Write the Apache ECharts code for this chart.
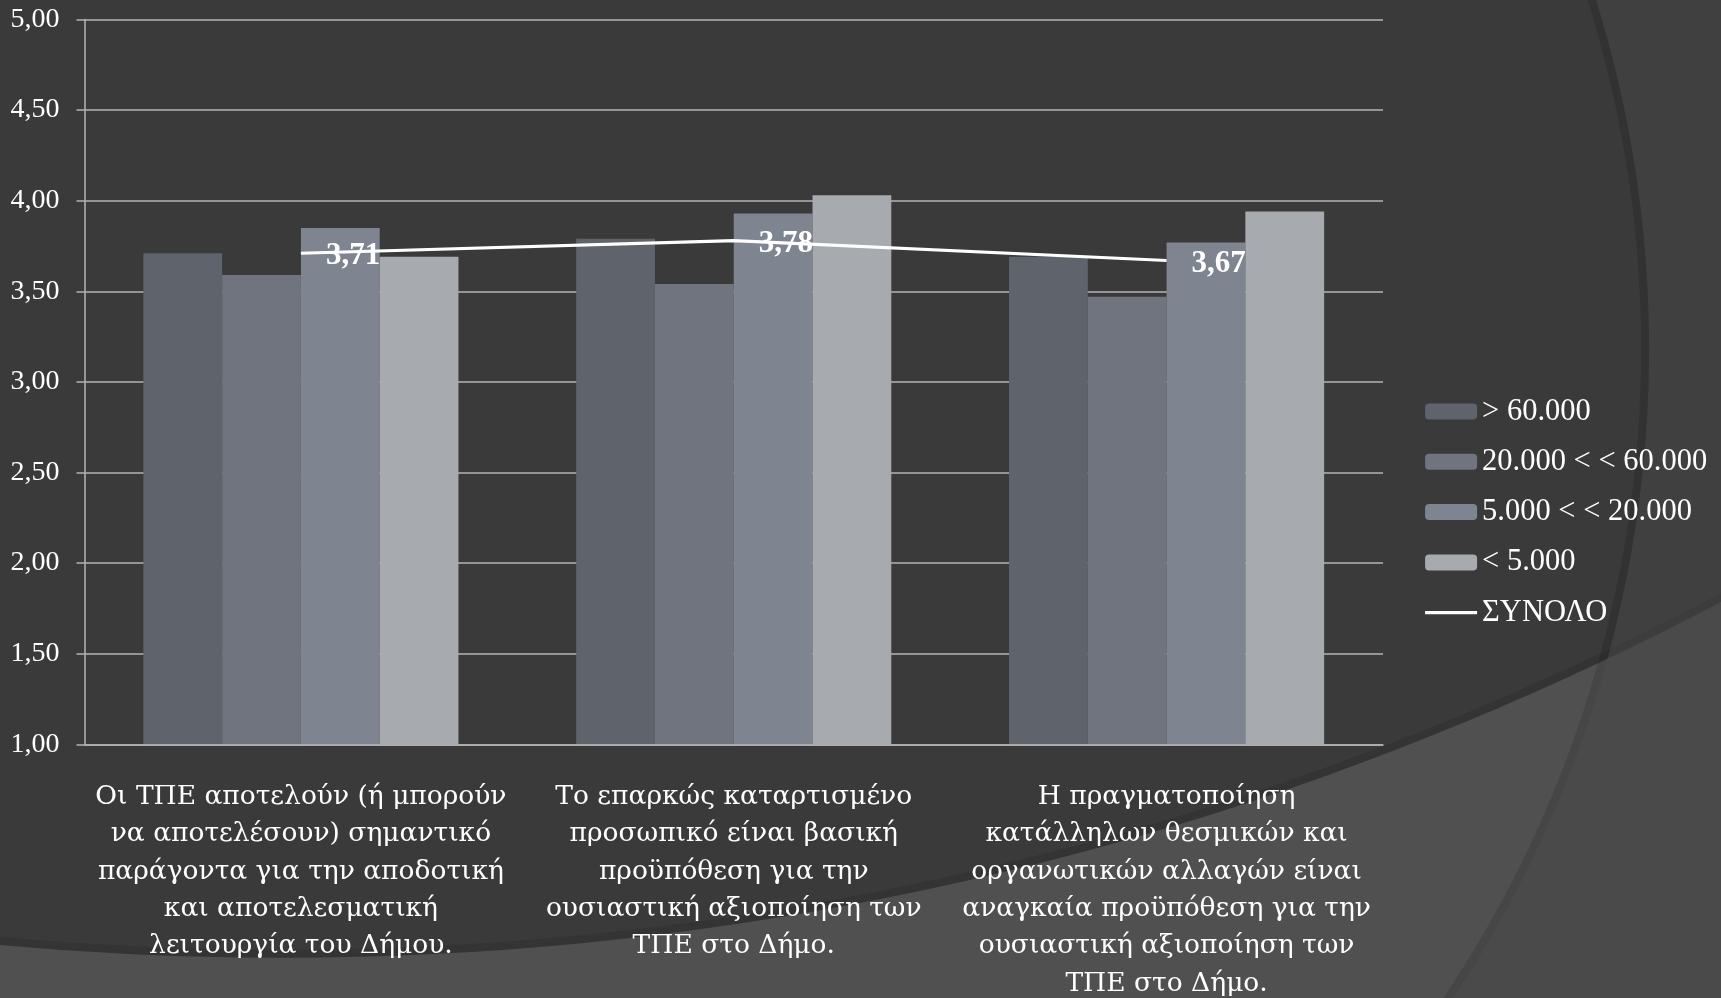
<!DOCTYPE html>
<html>
<head>
<meta charset="utf-8">
<script src="https://cdn.jsdelivr.net/npm/echarts@6/dist/echarts.min.js"></script>
<style>
  html, body { margin: 0; padding: 0; background: #3a3a3a; }
  #chart { width: 1721px; height: 998px; }
</style>
</head>
<body>
<div id="chart"></div>
<script>
// Survey statements (x-axis categories), pre-wrapped into lines
const categories = [
  'Οι ΤΠΕ αποτελούν (ή μπορούν\nνα αποτελέσουν) σημαντικό\nπαράγοντα για την αποδοτική\nκαι αποτελεσματική\nλειτουργία του Δήμου.',
  'Το επαρκώς καταρτισμένο\nπροσωπικό είναι βασική\nπροϋπόθεση για την\nουσιαστική αξιοποίηση των\nΤΠΕ στο Δήμο.',
  'Η πραγματοποίηση\nκατάλληλων θεσμικών και\nοργανωτικών αλλαγών είναι\nαναγκαία προϋπόθεση για την\nουσιαστική αξιοποίηση των\nΤΠΕ στο Δήμο.'
];

// Mean scores per municipality population band
const barNames = ['> 60.000', '20.000 < < 60.000', '5.000 < < 20.000', '< 5.000'];
const over60k     = [3.71, 3.79, 3.69];
const from20to60k = [3.59, 3.54, 3.47];
const from5to20k  = [3.85, 3.93, 3.77];
const under5k     = [3.69, 4.03, 3.94];

// Overall mean
const totalName = 'ΣΥΝΟΛΟ';
const total = [3.71, 3.78, 3.67];

// Value axis range
const yMin = 1;
const yMax = 5;
const yStep = 0.5;

const barColors = ['#5e636c', '#6f747e', '#7e8590', '#a7aaaf'];
const barData = [over60k, from20to60k, from5to20k, under5k];

const fmt = v => Number(v).toFixed(2).replace('.', ',');
const serif = 'Liberation Serif';
const textSerif = 'DejaVu Serif';
const axisGrey = '#b4b4b4';
const clear = 'rgba(255,255,255,0)';

const chart = echarts.init(document.getElementById('chart'), null, { renderer: 'canvas' });

const series = barData.map((d, i) => ({
  name: barNames[i],
  type: 'bar',
  data: d,
  barGap: '0%',
  barCategoryGap: '27.2%',
  itemStyle: { color: barColors[i] },
  emphasis: { disabled: true }
}));

series.push({
  name: totalName,
  type: 'line',
  data: total,
  symbol: 'circle',
  symbolSize: 2,
  z: 5,
  lineStyle: { color: '#ffffff', width: 3.2 },
  itemStyle: { color: clear },
  label: {
    show: true,
    position: 'right',
    distance: 24,
    offset: [0, 3],
    formatter: p => fmt(p.value),
    color: '#ffffff',
    fontFamily: serif,
    fontWeight: 'bold',
    fontSize: 31
  },
  emphasis: { disabled: true }
});

// Slide backdrop: a lighter lower sweep (outside a large circle above the page)
// and a curved band on the right edge (outside a circle centred on the left).
const sweep = { cx: 280.7, cy: -2135.6, r: 3093.4 };
const band = { cx: 476.7, cy: 348.9, r: 1172.4 };

chart.setOption({
  backgroundColor: '#3a3a3a',
  animation: false,
  graphic: [
    {
      type: 'rect', z: -20, silent: true,
      shape: { x: 0, y: 0, width: 1721, height: 998 },
      style: { fill: '#505050' }
    },
    {
      type: 'circle', z: -19, silent: true,
      shape: sweep,
      style: { fill: '#3a3a3a' }
    },
    {
      type: 'ring', z: -18, silent: true,
      shape: { cx: sweep.cx, cy: sweep.cy, r0: sweep.r - 8, r: sweep.r },
      style: { fill: 'rgba(0,0,0,0.10)' }
    },
    {
      type: 'ring', z: -17, silent: true,
      shape: { cx: band.cx, cy: band.cy, r0: band.r, r: 5000 },
      style: { fill: 'rgba(69,69,69,0.55)' }
    },
    {
      type: 'ring', z: -16, silent: true,
      shape: { cx: band.cx, cy: band.cy, r0: band.r - 8, r: band.r },
      style: { fill: 'rgba(0,0,0,0.12)' }
    }
  ],
  grid: { left: 84.5, right: 338, top: 19.5, bottom: 253.7, outerBoundsMode: 'none', containLabel: false },
  legend: {
    orient: 'vertical',
    left: 1418.5,
    top: 391,
    itemWidth: 52,
    itemHeight: 16,
    itemGap: 19.3,
    selectedMode: false,
    textStyle: { color: '#ffffff', fontFamily: serif, fontSize: 30.5, lineHeight: 30 },
    data: barNames.concat([{
      name: totalName,
      itemStyle: { color: clear, borderWidth: 0 },
      lineStyle: { color: '#ffffff', width: 3.2 }
    }])
  },
  xAxis: {
    type: 'category',
    data: categories,
    z: 3,
    axisLine: { lineStyle: { color: axisGrey, width: 1.5 } },
    axisTick: { length: 10, lineStyle: { color: axisGrey, width: 1.5 } },
    axisLabel: {
      interval: 0,
      margin: 34.2,
      color: '#ffffff',
      fontFamily: textSerif,
      fontSize: 26.5,
      lineHeight: 37.3
    }
  },
  yAxis: {
    type: 'value',
    min: yMin,
    max: yMax,
    interval: yStep,
    axisLine: { show: true, lineStyle: { color: axisGrey, width: 1.5 } },
    axisTick: { show: true, length: 8, lineStyle: { color: axisGrey, width: 1.5 } },
    splitLine: { lineStyle: { color: axisGrey, width: 1.5 } },
    axisLabel: {
      margin: 25,
      color: '#ffffff',
      fontFamily: serif,
      fontSize: 28,
      formatter: v => fmt(v)
    }
  },
  series: series
});
</script>
</body>
</html>
